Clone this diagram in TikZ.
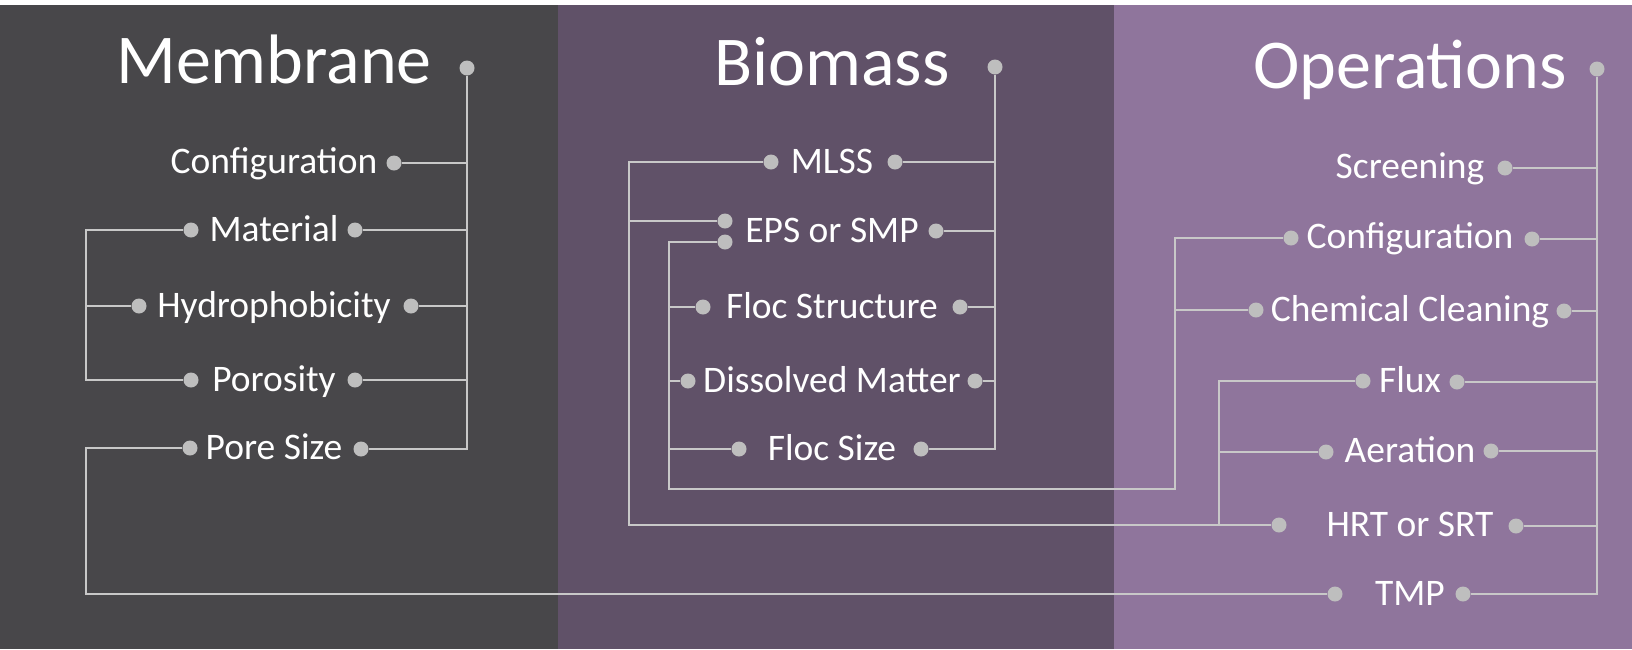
\documentclass[tikz,border=0pt]{standalone}
\usepackage{fontspec}
\setmainfont{Carlito}
\definecolor{memcol}{RGB}{72,71,74}
\definecolor{biocol}{RGB}{96,81,104}
\definecolor{opcol}{RGB}{143,117,156}
\definecolor{linegray}{RGB}{200,200,200}
\definecolor{dotgray}{RGB}{190,190,190}
\tikzset{
  dotnode/.style={circle, fill=dotgray, inner sep=0pt, minimum size=15pt},
  lbl/.style={text=white, font=\fontsize{37.5}{42}\selectfont, anchor=base, inner sep=0pt},
  ttl/.style={text=white, font=\fontsize{70}{78}\selectfont, anchor=base, inner sep=0pt},
  conn/.style={draw=linegray, line width=1.8pt}
}
\begin{document}
\begin{tikzpicture}[x=1pt,y=-1pt]
\useasboundingbox (0,0) rectangle (1632,649);
% panels
\fill[white] (0,0) rectangle (1632,649);
\fill[memcol] (0,5) rectangle (558,649);
\fill[biocol] (558,5) rectangle (1114,649);
\fill[opcol] (1114,5) rectangle (1632,649);

% ---------- Membrane ----------
\node[ttl] (tM) at (274,83) {Membrane};
\node[dotnode] (dM) at (467,68) {};
\node[lbl] (mConf) at (274,173.5) {Configuration};
\node[dotnode] (mConfR) at (394,163) {};
\node[lbl] (mMat) at (274,241) {Material};
\node[dotnode] (mMatL) at (191,230) {};
\node[dotnode] (mMatR) at (355,230) {};
\node[lbl] (mHyd) at (274,317) {Hydrophobicity};
\node[dotnode] (mHydL) at (139,306) {};
\node[dotnode] (mHydR) at (411,306) {};
\node[lbl] (mPor) at (274,391) {Porosity};
\node[dotnode] (mPorL) at (191,380) {};
\node[dotnode] (mPorR) at (355,380) {};
\node[lbl] (mPore) at (274,459) {Pore Size};
\node[dotnode] (mPoreL) at (190,448) {};
\node[dotnode] (mPoreR) at (361,449) {};
\coordinate (mbus) at (86,0);

% ---------- Biomass ----------
\node[ttl] (tB) at (832,85) {Biomass};
\node[dotnode] (dB) at (995,67) {};
\node[lbl] (bMlss) at (832,173) {MLSS};
\node[dotnode] (bMlssL) at (771,162) {};
\node[dotnode] (bMlssR) at (895,162) {};
\node[lbl] (bEps) at (832,242) {EPS or SMP};
\node[dotnode] (bEpsL1) at (725,221) {};
\node[dotnode] (bEpsL2) at (725,242) {};
\node[dotnode] (bEpsR) at (936,231) {};
\node[lbl] (bFst) at (832,318) {Floc Structure};
\node[dotnode] (bFstL) at (703,307) {};
\node[dotnode] (bFstR) at (960,307) {};
\node[lbl] (bDis) at (832,392) {Dissolved Matter};
\node[dotnode] (bDisL) at (688,381) {};
\node[dotnode] (bDisR) at (975,381) {};
\node[lbl] (bFsz) at (832,460) {Floc Size};
\node[dotnode] (bFszL) at (739,449) {};
\node[dotnode] (bFszR) at (921,449) {};
\coordinate (bbusA) at (629,0);
\coordinate (bbusB) at (669,0);

% ---------- Operations ----------
\node[ttl] (tO) at (1410,88) {Operations};
\node[dotnode] (dO) at (1597,69) {};
\node[lbl] (oScr) at (1410,178) {Screening};
\node[dotnode] (oScrR) at (1505,168) {};
\node[lbl] (oConf) at (1410,248) {Configuration};
\node[dotnode] (oConfL) at (1291,238) {};
\node[dotnode] (oConfR) at (1532,239) {};
\node[lbl] (oChem) at (1410,321) {Chemical Cleaning};
\node[dotnode] (oChemL) at (1256,310) {};
\node[dotnode] (oChemR) at (1564,311) {};
\node[lbl] (oFlux) at (1410,392) {Flux};
\node[dotnode] (oFluxL) at (1363,381) {};
\node[dotnode] (oFluxR) at (1457,382) {};
\node[lbl] (oAer) at (1410,462) {Aeration};
\node[dotnode] (oAerL) at (1326,452) {};
\node[dotnode] (oAerR) at (1491,451) {};
\node[lbl] (oHrt) at (1410,536) {HRT or SRT};
\node[dotnode] (oHrtL) at (1279,525) {};
\node[dotnode] (oHrtR) at (1516,526) {};
\node[lbl] (oTmp) at (1410,605) {TMP};
\node[dotnode] (oTmpL) at (1335,594) {};
\node[dotnode] (oTmpR) at (1463,594) {};
\coordinate (obusR) at (1596,0);
\coordinate (jc) at (1175,489);
\coordinate (obusB) at (1219,0);

% ---------- connectors: Membrane ----------
\draw[conn] (dM) |- (mPoreR);
\draw[conn] (mConfR) -- (mConfR -| dM);
\draw[conn] (mMatR) -- (mMatR -| dM);
\draw[conn] (mHydR) -- (mHydR -| dM);
\draw[conn] (mPorR) -- (mPorR -| dM);
\draw[conn] (mMatL) -- (mMatL -| mbus) -- (mPorL -| mbus) -- (mPorL);
\draw[conn] (mHydL) -- (mHydL -| mbus);
\draw[conn] (mPoreL) -- (mPoreL -| mbus) |- (oTmpL);

% ---------- connectors: Biomass ----------
\draw[conn] (dB) |- (bFszR);
\draw[conn] (bMlssR) -- (bMlssR -| dB);
\draw[conn] (bEpsR) -- (bEpsR -| dB);
\draw[conn] (bFstR) -- (bFstR -| dB);
\draw[conn] (bDisR) -- (bDisR -| dB);
\draw[conn] (bMlssL) -- (bMlssL -| bbusA) |- (oHrtL);
\draw[conn] (bEpsL1) -- (bEpsL1 -| bbusA);
\draw[conn] (bEpsL2) -- (bEpsL2 -| bbusB) |- (jc) |- (oConfL);
\draw[conn] (bFstL) -- (bFstL -| bbusB);
\draw[conn] (bDisL) -- (bDisL -| bbusB);
\draw[conn] (bFszL) -- (bFszL -| bbusB);

% ---------- connectors: Operations ----------
\draw[conn] (dO) |- (oTmpR);
\draw[conn] (oScrR) -- (oScrR -| obusR);
\draw[conn] (oConfR) -- (oConfR -| obusR);
\draw[conn] (oChemR) -- (oChemR -| obusR);
\draw[conn] (oFluxR) -- (oFluxR -| obusR);
\draw[conn] (oAerR) -- (oAerR -| obusR);
\draw[conn] (oHrtR) -- (oHrtR -| obusR);
\draw[conn] (oChemL) -- (oChemL -| jc);
\draw[conn] (oFluxL) -- (oFluxL -| obusB) -- (oHrtL -| obusB);
\draw[conn] (oAerL) -- (oAerL -| obusB);
\end{tikzpicture}
\end{document}
